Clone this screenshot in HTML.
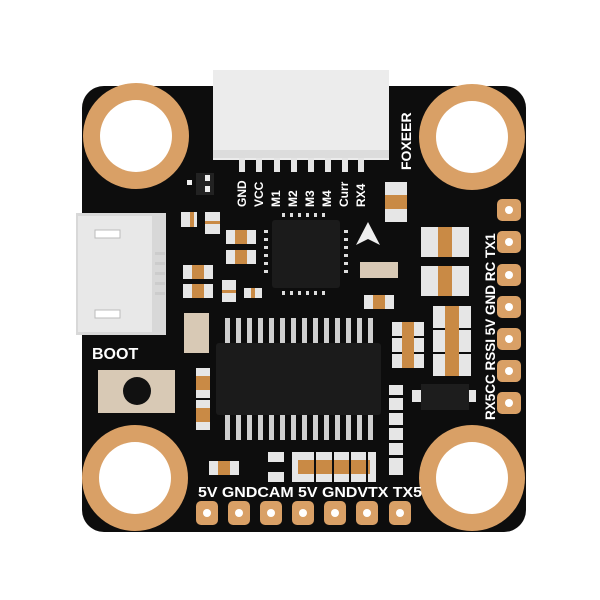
<!DOCTYPE html>
<html><head><style>body{margin:0;background:#fff}svg{display:block}</style></head><body>
<svg width="600" height="600" viewBox="0 0 600 600" xmlns="http://www.w3.org/2000/svg" font-family="Liberation Sans, sans-serif" font-weight="bold">
<rect x="82" y="86" width="444" height="446" rx="22" fill="#0d0d0d"/>
<g fill="#d9a066">
<circle cx="136" cy="136" r="53"/><circle cx="472" cy="137" r="53"/>
<circle cx="135" cy="478" r="53"/><circle cx="472" cy="478" r="53"/>
</g>
<g fill="#fff">
<circle cx="136" cy="136" r="36"/><circle cx="472" cy="137" r="36"/>
<circle cx="135" cy="478" r="36"/><circle cx="472" cy="478" r="36"/>
</g>
<rect x="213" y="70" width="176" height="90" fill="#ececec"/>
<rect x="213" y="150" width="176" height="8" fill="#dcdcdc"/>
<g fill="#e5e5e5">
<rect x="239" y="158" width="6" height="14"/><rect x="256" y="158" width="6" height="14"/><rect x="274" y="158" width="6" height="14"/><rect x="291" y="158" width="6" height="14"/><rect x="308" y="158" width="6" height="14"/><rect x="325" y="158" width="6" height="14"/><rect x="342" y="158" width="6" height="14"/><rect x="358" y="158" width="6" height="14"/>
</g>
<!-- right pads -->
<g fill="#d9a066">
<rect x="497" y="199" width="24" height="22" rx="5"/><rect x="497" y="231" width="24" height="22" rx="5"/><rect x="497" y="264" width="24" height="22" rx="5"/><rect x="497" y="296" width="24" height="22" rx="5"/><rect x="497" y="328" width="24" height="22" rx="5"/><rect x="497" y="360" width="24" height="22" rx="5"/><rect x="497" y="392" width="24" height="22" rx="5"/>
<rect x="196" y="501" width="22" height="24" rx="5"/><rect x="228" y="501" width="22" height="24" rx="5"/><rect x="260" y="501" width="22" height="24" rx="5"/><rect x="292" y="501" width="22" height="24" rx="5"/><rect x="324" y="501" width="22" height="24" rx="5"/><rect x="356" y="501" width="22" height="24" rx="5"/><rect x="389" y="501" width="22" height="24" rx="5"/>
</g>
<g fill="#fff">
<circle cx="509" cy="210" r="4"/><circle cx="509" cy="242" r="4"/><circle cx="509" cy="275" r="4"/><circle cx="509" cy="307" r="4"/><circle cx="509" cy="339" r="4"/><circle cx="509" cy="371" r="4"/><circle cx="509" cy="403" r="4"/>
<circle cx="207" cy="513" r="4"/><circle cx="239" cy="513" r="4"/><circle cx="271" cy="513" r="4"/><circle cx="303" cy="513" r="4"/><circle cx="335" cy="513" r="4"/><circle cx="367" cy="513" r="4"/><circle cx="400" cy="513" r="4"/>
</g>
<rect x="76" y="213" width="90" height="122" fill="#d8d8d8"/>
<rect x="78" y="216" width="74" height="116" fill="#e8e8e8"/>
<rect x="95" y="230" width="25" height="8" fill="#fff" stroke="#bbb"/>
<rect x="95" y="310" width="25" height="8" fill="#fff" stroke="#bbb"/>
<g fill="#ccc"><rect x="155" y="252" width="10" height="3"/><rect x="155" y="262" width="10" height="3"/><rect x="155" y="272" width="10" height="3"/><rect x="155" y="282" width="10" height="3"/><rect x="155" y="292" width="10" height="3"/></g>
<rect x="98" y="370" width="77" height="43" fill="#d8c9b5"/>
<circle cx="137" cy="391" r="14" fill="#111"/>
<rect x="272" y="220" width="68" height="68" rx="3" fill="#1b1b1b"/>
<g fill="#ddd">
<rect x="282" y="213" width="3" height="4"/><rect x="290" y="213" width="3" height="4"/><rect x="298" y="213" width="3" height="4"/><rect x="306" y="213" width="3" height="4"/><rect x="314" y="213" width="3" height="4"/><rect x="322" y="213" width="3" height="4"/>
<rect x="282" y="291" width="3" height="4"/><rect x="290" y="291" width="3" height="4"/><rect x="298" y="291" width="3" height="4"/><rect x="306" y="291" width="3" height="4"/><rect x="314" y="291" width="3" height="4"/><rect x="322" y="291" width="3" height="4"/>
<rect x="264" y="230" width="4" height="3"/><rect x="264" y="238" width="4" height="3"/><rect x="264" y="246" width="4" height="3"/><rect x="264" y="254" width="4" height="3"/><rect x="264" y="262" width="4" height="3"/><rect x="264" y="270" width="4" height="3"/>
<rect x="344" y="230" width="4" height="3"/><rect x="344" y="238" width="4" height="3"/><rect x="344" y="246" width="4" height="3"/><rect x="344" y="254" width="4" height="3"/><rect x="344" y="262" width="4" height="3"/><rect x="344" y="270" width="4" height="3"/>
</g>
<g fill="#cfcfcf">
<rect x="225" y="318" width="5" height="26"/><rect x="236" y="318" width="5" height="26"/><rect x="247" y="318" width="5" height="26"/><rect x="258" y="318" width="5" height="26"/><rect x="269" y="318" width="5" height="26"/><rect x="280" y="318" width="5" height="26"/><rect x="291" y="318" width="5" height="26"/><rect x="302" y="318" width="5" height="26"/><rect x="313" y="318" width="5" height="26"/><rect x="324" y="318" width="5" height="26"/><rect x="335" y="318" width="5" height="26"/><rect x="346" y="318" width="5" height="26"/><rect x="357" y="318" width="5" height="26"/><rect x="368" y="318" width="5" height="26"/>
<rect x="225" y="414" width="5" height="26"/><rect x="236" y="414" width="5" height="26"/><rect x="247" y="414" width="5" height="26"/><rect x="258" y="414" width="5" height="26"/><rect x="269" y="414" width="5" height="26"/><rect x="280" y="414" width="5" height="26"/><rect x="291" y="414" width="5" height="26"/><rect x="302" y="414" width="5" height="26"/><rect x="313" y="414" width="5" height="26"/><rect x="324" y="414" width="5" height="26"/><rect x="335" y="414" width="5" height="26"/><rect x="346" y="414" width="5" height="26"/><rect x="357" y="414" width="5" height="26"/><rect x="368" y="414" width="5" height="26"/>
</g>
<rect x="216" y="343" width="165" height="72" rx="3" fill="#1b1b1b"/>
<g fill="#e6e6e6">
<rect x="181" y="212" width="16" height="15"/><rect x="205" y="212" width="15" height="22"/>
<rect x="226" y="230" width="30" height="14"/><rect x="226" y="250" width="30" height="14"/>
<rect x="183" y="265" width="30" height="14"/><rect x="183" y="284" width="30" height="14"/>
<rect x="222" y="280" width="14" height="22"/><rect x="244" y="288" width="18" height="10"/>
<rect x="385" y="182" width="22" height="40"/>
<rect x="360" y="262" width="38" height="16" fill="#d8c9b5"/>
<rect x="364" y="295" width="30" height="14"/>
<rect x="184" y="313" width="25" height="40" fill="#d8c9b5"/>
<rect x="421" y="227" width="48" height="30"/><rect x="421" y="266" width="48" height="30"/>
<rect x="433" y="306" width="38" height="22"/><rect x="433" y="330" width="38" height="22"/><rect x="433" y="354" width="38" height="22"/>
<rect x="392" y="322" width="32" height="14"/><rect x="392" y="338" width="32" height="14"/><rect x="392" y="354" width="32" height="14"/>
<rect x="196" y="368" width="14" height="30"/><rect x="196" y="400" width="14" height="30"/>
<rect x="209" y="461" width="30" height="14"/>
<rect x="268" y="452" width="16" height="30"/><rect x="292" y="452" width="84" height="30"/>
<rect x="389" y="385" width="14" height="90"/>
<rect x="412" y="390" width="64" height="12"/>
</g>
<g fill="#c98a45">
<rect x="190" y="212" width="4" height="15"/><rect x="205" y="221" width="15" height="3"/>
<rect x="235" y="230" width="12" height="14"/><rect x="235" y="250" width="12" height="14"/>
<rect x="192" y="265" width="12" height="14"/><rect x="192" y="284" width="12" height="14"/>
<rect x="222" y="290" width="14" height="3"/><rect x="251" y="288" width="4" height="10"/>
<rect x="385" y="195" width="22" height="14"/>
<rect x="373" y="295" width="12" height="14"/>
<rect x="438" y="227" width="14" height="30"/><rect x="438" y="266" width="14" height="30"/>
<rect x="445" y="306" width="14" height="70"/>
<rect x="402" y="322" width="12" height="46"/>
<rect x="196" y="376" width="14" height="14"/><rect x="196" y="408" width="14" height="14"/>
<rect x="218" y="461" width="12" height="14"/>
<rect x="298" y="460" width="72" height="14"/>
</g>
<g fill="#0d0d0d"><rect x="314" y="452" width="2" height="30"/><rect x="332" y="452" width="2" height="30"/><rect x="349" y="452" width="2" height="30"/><rect x="366" y="452" width="2" height="30"/>
<rect x="389" y="395" width="14" height="3"/><rect x="389" y="410" width="14" height="3"/><rect x="389" y="425" width="14" height="3"/><rect x="389" y="440" width="14" height="3"/><rect x="389" y="455" width="14" height="3"/>
<rect x="268" y="462" width="16" height="10"/></g>
<rect x="421" y="384" width="48" height="26" fill="#1d1d1d"/>
<rect x="196" y="173" width="18" height="22" fill="#222"/>
<rect x="187" y="180" width="5" height="5" fill="#eee"/><rect x="205" y="175" width="5" height="6" fill="#eee"/><rect x="205" y="186" width="5" height="6" fill="#eee"/>
<path d="M368 222 L356 245 L368 239 L380 245 Z" fill="#eee"/>
<g fill="#fff" font-size="12">
<text transform="translate(246,207) rotate(-90)">GND</text>
<text transform="translate(263,207) rotate(-90)">VCC</text>
<text transform="translate(280,207) rotate(-90)">M1</text>
<text transform="translate(297,207) rotate(-90)">M2</text>
<text transform="translate(314,207) rotate(-90)">M3</text>
<text transform="translate(331,207) rotate(-90)">M4</text>
<text transform="translate(348,207) rotate(-90)">Curr</text>
<text transform="translate(365,207) rotate(-90)">RX4</text>
<text transform="translate(411,170) rotate(-90)" font-size="14">FOXEER</text>
<text transform="translate(495,420) rotate(-90)" font-size="13.5">RX5CC RSSI 5V GND RC  TX1</text>
<text x="198" y="497" font-size="14.5" textLength="224" lengthAdjust="spacingAndGlyphs">5V GNDCAM 5V GNDVTX TX5</text>
<text x="92" y="359" font-size="16">BOOT</text>
</g>
</svg>
</body></html>
